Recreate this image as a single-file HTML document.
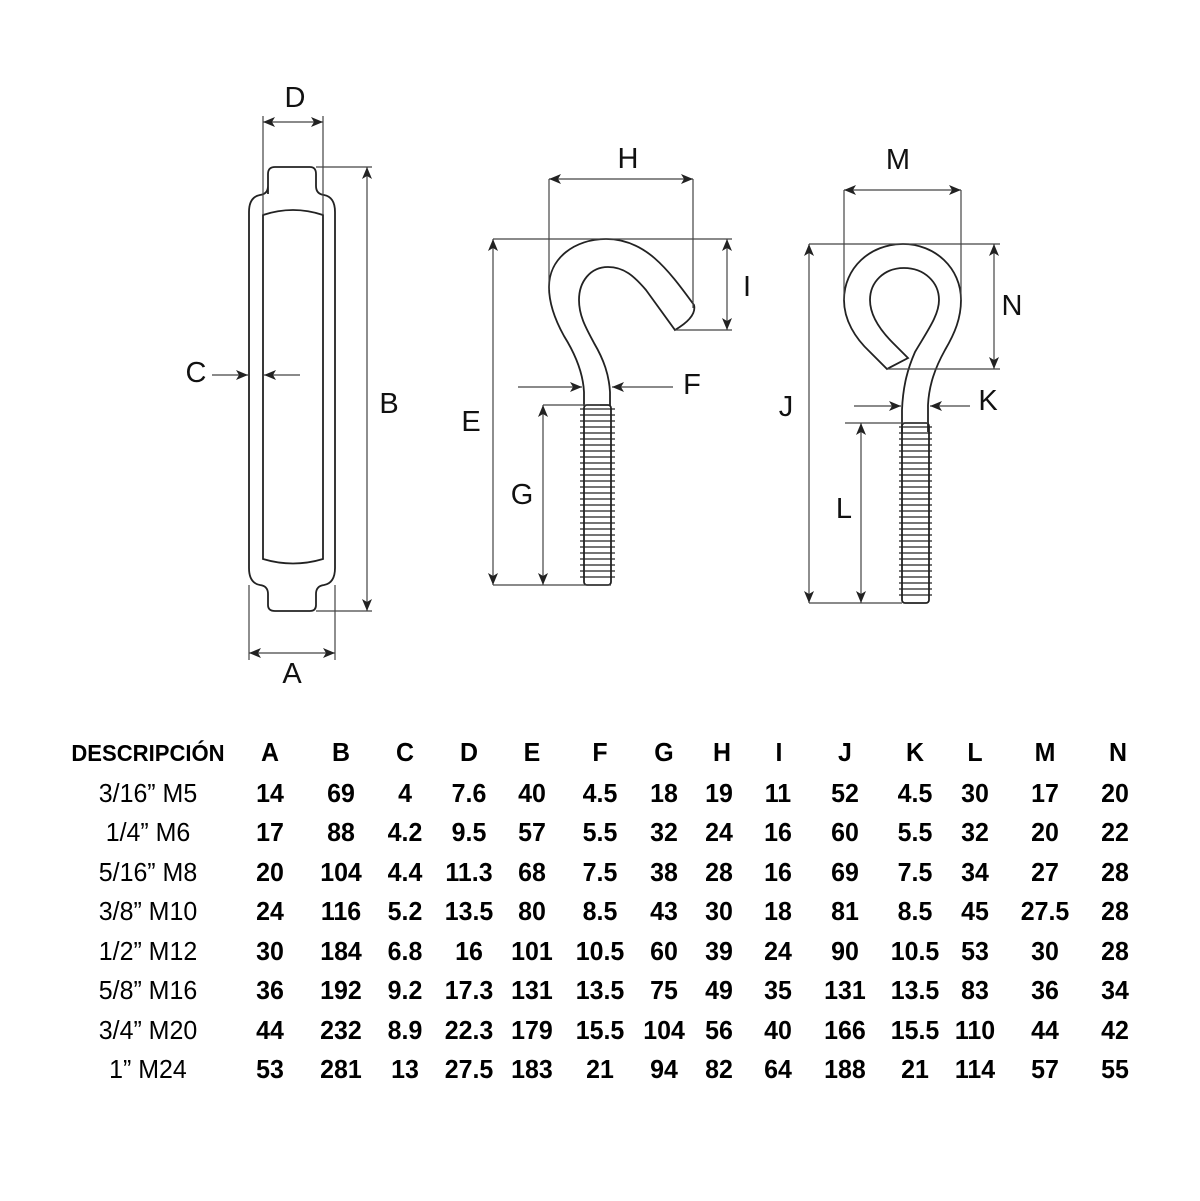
<!DOCTYPE html>
<html><head><meta charset="utf-8"><style>
html,body{margin:0;padding:0;background:#fff}
svg{display:block}
text{font-family:"Liberation Sans",Arial,sans-serif;transform-box:fill-box;transform-origin:center;}
.t text{transform:scaleX(0.96);font-size:26px;text-anchor:middle}
.b{font-weight:bold}
.lbl{font-size:29px;text-anchor:middle;fill:#111}
</style></head><body>
<svg width="1200" height="1201" viewBox="0 0 1200 1201" xmlns="http://www.w3.org/2000/svg">
<defs>
<marker id="ar" viewBox="0 0 12 10" refX="12" refY="5" markerWidth="12" markerHeight="10" markerUnits="userSpaceOnUse" orient="auto-start-reverse">
<path d="M0,0 L12,5 L0,10 L3,5 z" fill="#222"/></marker>
</defs>
<g fill="none" stroke="#222" stroke-width="1.8">
<path d="M268,194 L268,174 Q268,167 275,167 L310,167 Q316,167 316,174 L316,186 Q316,194 324,195 Q335,197 335,212 L335,568 Q335,583 324,585 Q316,586 316,594 L316,605 Q316,611 310,611 L275,611 Q268,611 268,605 L268,594 Q268,586 260,585 Q249,583 249,568 L249,212 Q249,197 260,195 Q268,194 268,186 Z"/>
<path d="M263,215 Q293,205 323,215 L323,559 Q293,568 263,559 Z"/>
</g>
<g stroke="#444" stroke-width="1.2" fill="none">
<line x1="263" y1="116" x2="263" y2="215"/><line x1="323" y1="116" x2="323" y2="215"/>
<line x1="263" y1="122" x2="323" y2="122" marker-start="url(#ar)" marker-end="url(#ar)"/>
<line x1="316" y1="167" x2="372" y2="167"/><line x1="316" y1="611" x2="372" y2="611"/>
<line x1="367" y1="167" x2="367" y2="611" marker-start="url(#ar)" marker-end="url(#ar)"/>
<line x1="249" y1="585" x2="249" y2="660"/><line x1="335" y1="585" x2="335" y2="660"/>
<line x1="249" y1="653" x2="335" y2="653" marker-start="url(#ar)" marker-end="url(#ar)"/>
<line x1="212" y1="375" x2="248" y2="375" marker-end="url(#ar)"/>
<line x1="300" y1="375" x2="264" y2="375" marker-end="url(#ar)"/>
</g>
<g fill="none" stroke="#222" stroke-width="1.8">
<path d="M584,406 L584,392 C583,372 574,352 564,336 C554,318 549,302 549,287 C549,258 575,239 606,239 C645,239 667,268 694,305 Q697,317 675,330 L646,290 C634,276 624,267 608,267 C590,267 579,282 579,300 C579,316 586,328 594,343 C604,360 609,375 610,392 L610,406"/>
<rect x="584" y="405" width="27" height="180" rx="3"/>
</g>
<g stroke="#222" stroke-width="1.2">
<path d="M580,409 H615 M580,415 H615 M580,421 H615 M580,427 H615 M580,433 H615 M580,439 H615 M580,445 H615 M580,451 H615 M580,457 H615 M580,463 H615 M580,469 H615 M580,475 H615 M580,481 H615 M580,487 H615 M580,493 H615 M580,499 H615 M580,505 H615 M580,511 H615 M580,517 H615 M580,523 H615 M580,529 H615 M580,535 H615 M580,541 H615 M580,547 H615 M580,553 H615 M580,559 H615 M580,565 H615 M580,571 H615 M580,577 H615"/>
</g>
<g stroke="#444" stroke-width="1.2" fill="none">
<line x1="493" y1="239" x2="732" y2="239"/>
<line x1="493" y1="239" x2="493" y2="585" marker-start="url(#ar)" marker-end="url(#ar)"/>
<line x1="493" y1="585" x2="611" y2="585"/>
<line x1="549" y1="179" x2="549" y2="290"/><line x1="693" y1="179" x2="693" y2="308"/>
<line x1="549" y1="179" x2="693" y2="179" marker-start="url(#ar)" marker-end="url(#ar)"/>
<line x1="675" y1="330" x2="732" y2="330"/>
<line x1="727" y1="239" x2="727" y2="330" marker-start="url(#ar)" marker-end="url(#ar)"/>
<line x1="543" y1="405" x2="600" y2="405"/>
<line x1="543" y1="405" x2="543" y2="585" marker-start="url(#ar)" marker-end="url(#ar)"/>
<line x1="518" y1="387" x2="582" y2="387" marker-end="url(#ar)"/>
<line x1="673" y1="387" x2="612" y2="387" marker-end="url(#ar)"/>
</g>
<g fill="none" stroke="#222" stroke-width="1.8">
<path d="M902,432 L902,410 C903,385 908,368 915,352 C928,330 939,315 939,300 C939,282 924,268 904,268 C884,268 870,282 870,300 C870,315 880,330 893,343 L908,358 L887,369 L870,352 C855,338 844,320 844,300 C844,268 870,244 903,244 C935,244 961,268 961,300 C961,318 955,333 945,350 C935,368 929,385 928,405 L928,432"/>
<rect x="902" y="423" width="27" height="180" rx="3"/>
</g>
<g stroke="#222" stroke-width="1.2">
<path d="M899,427 H932 M899,433 H932 M899,439 H932 M899,445 H932 M899,451 H932 M899,457 H932 M899,463 H932 M899,469 H932 M899,475 H932 M899,481 H932 M899,487 H932 M899,493 H932 M899,499 H932 M899,505 H932 M899,511 H932 M899,517 H932 M899,523 H932 M899,529 H932 M899,535 H932 M899,541 H932 M899,547 H932 M899,553 H932 M899,559 H932 M899,565 H932 M899,571 H932 M899,577 H932 M899,583 H932 M899,589 H932 M899,595 H932"/>
</g>
<g stroke="#444" stroke-width="1.2" fill="none">
<line x1="809" y1="244" x2="1000" y2="244"/>
<line x1="809" y1="244" x2="809" y2="603" marker-start="url(#ar)" marker-end="url(#ar)"/>
<line x1="809" y1="603" x2="902" y2="603"/>
<line x1="844" y1="190" x2="844" y2="300"/><line x1="961" y1="190" x2="961" y2="300"/>
<line x1="844" y1="190" x2="961" y2="190" marker-start="url(#ar)" marker-end="url(#ar)"/>
<line x1="887" y1="369" x2="1000" y2="369"/>
<line x1="994" y1="244" x2="994" y2="369" marker-start="url(#ar)" marker-end="url(#ar)"/>
<line x1="845" y1="423" x2="928" y2="423"/>
<line x1="861" y1="423" x2="861" y2="603" marker-start="url(#ar)" marker-end="url(#ar)"/>
<line x1="854" y1="406" x2="901" y2="406" marker-end="url(#ar)"/>
<line x1="970" y1="406" x2="930" y2="406" marker-end="url(#ar)"/>
</g>
<g class="lbl">
<text x="295" y="107">D</text><text x="389" y="413">B</text><text x="196" y="382">C</text><text x="292" y="683">A</text>
<text x="628" y="168">H</text><text x="747" y="296">I</text><text x="692" y="394">F</text><text x="471" y="431">E</text><text x="522" y="504">G</text>
<text x="898" y="169">M</text><text x="1012" y="315">N</text><text x="988" y="410">K</text><text x="786" y="416">J</text><text x="844" y="518">L</text>
</g>
<g class="t">
<g class="b"><text x="148" y="761" style="font-size:23px">DESCRIPCIÓN</text><text x="270" y="761">A</text><text x="341" y="761">B</text><text x="405" y="761">C</text><text x="469" y="761">D</text><text x="532" y="761">E</text><text x="600" y="761">F</text><text x="664" y="761">G</text><text x="722" y="761">H</text><text x="779" y="761">I</text><text x="845" y="761">J</text><text x="915" y="761">K</text><text x="975" y="761">L</text><text x="1045" y="761">M</text><text x="1118" y="761">N</text></g>
<text x="148" y="802">3/16” M5</text><text x="148" y="841">1/4” M6</text><text x="148" y="881">5/16” M8</text><text x="148" y="920">3/8” M10</text><text x="148" y="960">1/2” M12</text><text x="148" y="999">5/8” M16</text><text x="148" y="1039">3/4” M20</text><text x="148" y="1078">1” M24</text>
<g class="b">
<text x="270" y="802">14</text><text x="341" y="802">69</text><text x="405" y="802">4</text><text x="469" y="802">7.6</text><text x="532" y="802">40</text><text x="600" y="802">4.5</text><text x="664" y="802">18</text><text x="719" y="802">19</text><text x="778" y="802">11</text><text x="845" y="802">52</text><text x="915" y="802">4.5</text><text x="975" y="802">30</text><text x="1045" y="802">17</text><text x="1115" y="802">20</text>
<text x="270" y="841">17</text><text x="341" y="841">88</text><text x="405" y="841">4.2</text><text x="469" y="841">9.5</text><text x="532" y="841">57</text><text x="600" y="841">5.5</text><text x="664" y="841">32</text><text x="719" y="841">24</text><text x="778" y="841">16</text><text x="845" y="841">60</text><text x="915" y="841">5.5</text><text x="975" y="841">32</text><text x="1045" y="841">20</text><text x="1115" y="841">22</text>
<text x="270" y="881">20</text><text x="341" y="881">104</text><text x="405" y="881">4.4</text><text x="469" y="881">11.3</text><text x="532" y="881">68</text><text x="600" y="881">7.5</text><text x="664" y="881">38</text><text x="719" y="881">28</text><text x="778" y="881">16</text><text x="845" y="881">69</text><text x="915" y="881">7.5</text><text x="975" y="881">34</text><text x="1045" y="881">27</text><text x="1115" y="881">28</text>
<text x="270" y="920">24</text><text x="341" y="920">116</text><text x="405" y="920">5.2</text><text x="469" y="920">13.5</text><text x="532" y="920">80</text><text x="600" y="920">8.5</text><text x="664" y="920">43</text><text x="719" y="920">30</text><text x="778" y="920">18</text><text x="845" y="920">81</text><text x="915" y="920">8.5</text><text x="975" y="920">45</text><text x="1045" y="920">27.5</text><text x="1115" y="920">28</text>
<text x="270" y="960">30</text><text x="341" y="960">184</text><text x="405" y="960">6.8</text><text x="469" y="960">16</text><text x="532" y="960">101</text><text x="600" y="960">10.5</text><text x="664" y="960">60</text><text x="719" y="960">39</text><text x="778" y="960">24</text><text x="845" y="960">90</text><text x="915" y="960">10.5</text><text x="975" y="960">53</text><text x="1045" y="960">30</text><text x="1115" y="960">28</text>
<text x="270" y="999">36</text><text x="341" y="999">192</text><text x="405" y="999">9.2</text><text x="469" y="999">17.3</text><text x="532" y="999">131</text><text x="600" y="999">13.5</text><text x="664" y="999">75</text><text x="719" y="999">49</text><text x="778" y="999">35</text><text x="845" y="999">131</text><text x="915" y="999">13.5</text><text x="975" y="999">83</text><text x="1045" y="999">36</text><text x="1115" y="999">34</text>
<text x="270" y="1039">44</text><text x="341" y="1039">232</text><text x="405" y="1039">8.9</text><text x="469" y="1039">22.3</text><text x="532" y="1039">179</text><text x="600" y="1039">15.5</text><text x="664" y="1039">104</text><text x="719" y="1039">56</text><text x="778" y="1039">40</text><text x="845" y="1039">166</text><text x="915" y="1039">15.5</text><text x="975" y="1039">110</text><text x="1045" y="1039">44</text><text x="1115" y="1039">42</text>
<text x="270" y="1078">53</text><text x="341" y="1078">281</text><text x="405" y="1078">13</text><text x="469" y="1078">27.5</text><text x="532" y="1078">183</text><text x="600" y="1078">21</text><text x="664" y="1078">94</text><text x="719" y="1078">82</text><text x="778" y="1078">64</text><text x="845" y="1078">188</text><text x="915" y="1078">21</text><text x="975" y="1078">114</text><text x="1045" y="1078">57</text><text x="1115" y="1078">55</text>
</g></g>
</svg>
</body></html>
